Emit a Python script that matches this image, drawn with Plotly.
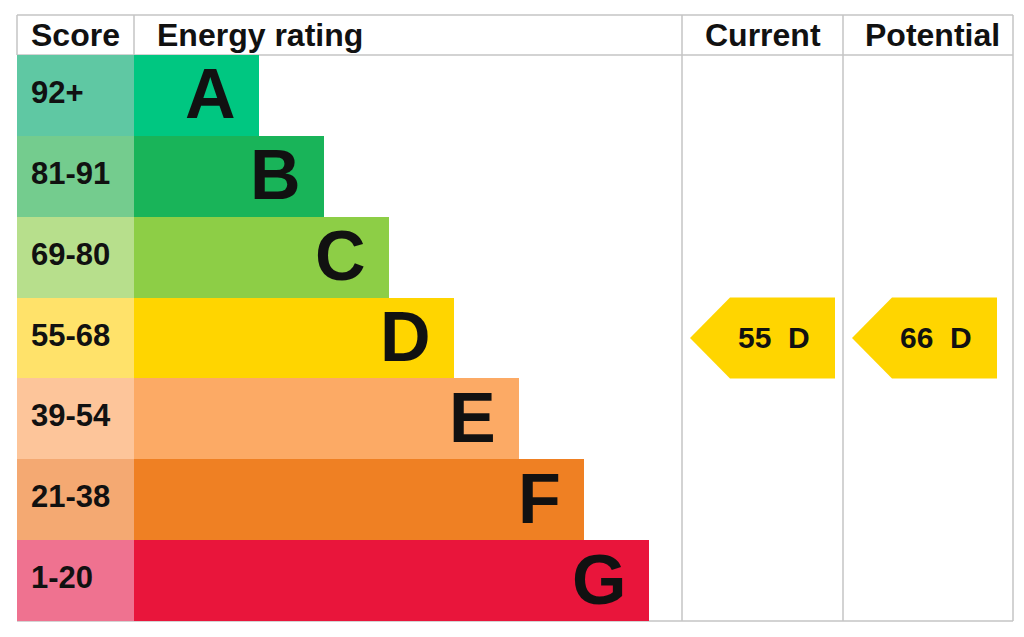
import plotly.graph_objects as go

# ---- data ----
bands = ["A", "B", "C", "D", "E", "F", "G"]
score_ranges = ["92+", "81-91", "69-80", "55-68", "39-54", "21-38", "1-20"]
band_lower = [92, 81, 69, 55, 39, 21, 1]
band_colors = ["#00C781", "#19B459", "#8DCE46", "#FFD500", "#FCAA65", "#EF8023", "#E9153B"]
score_colors = ["#5FC8A3", "#74CC8E", "#B7DF8C", "#FFE26A", "#FDC59A", "#F4A972", "#EF7290"]
headers = ["Score", "Energy rating", "Current", "Potential"]
current_score = 55
potential_score = 66

# ---- layout geometry (pixels) ----
W, H = 1024, 637
OFF = 8  # page body margin
left, top, right, bottom = 17, 15, 1013, 621
head_bot = 55
col_score = 134
col_cur = 682
col_pot = 843
row_h = (bottom - head_bot) / len(bands)
row_c = [head_bot + row_h * (i + 0.5) for i in range(len(bands))]
bar_len = [125 + 65 * i for i in range(len(bands))]

FONT = "Liberation Sans, Arial, sans-serif"
TXT = "#111111"
GRID = "#C4C4C4"

def band_of(score):
    for i, lo in enumerate(band_lower):
        if score >= lo:
            return i
    return len(band_lower) - 1

fig = go.Figure()

# score column
fig.add_trace(go.Bar(
    orientation="h", y=row_c, x=[col_score - left] * len(bands), base=left,
    width=row_h, marker=dict(color=score_colors, line=dict(width=0)),
    hoverinfo="skip", showlegend=False))
# energy bars
fig.add_trace(go.Bar(
    orientation="h", y=row_c, x=bar_len, base=col_score,
    width=row_h, marker=dict(color=band_colors, line=dict(width=0)),
    hoverinfo="skip", showlegend=False))

annotations = []
for i in range(len(bands)):
    annotations.append(dict(x=left + 12, y=row_c[i] - 3, text=score_ranges[i], xanchor="left",
                            yanchor="middle", showarrow=False,
                            font=dict(family=FONT, size=31, color=TXT, weight="bold")))
    annotations.append(dict(x=col_score + bar_len[i] - 21, y=row_c[i] - 1, text=bands[i],
                            xanchor="right", yanchor="middle", showarrow=False,
                            font=dict(family=FONT, size=70, color=TXT, weight="bold")))

# arrows
def arrow(score, x0, x1):
    i = band_of(score)
    yc = row_c[i]
    y0, y1 = yc - row_h / 2, yc + row_h / 2
    notch = x0 + 40
    xs = [x0, notch, x1, x1, notch, x0]
    ys = [yc, y0, y0, y1, y1, yc]
    fig.add_trace(go.Scatter(x=xs, y=ys, mode="lines", fill="toself",
                             fillcolor=band_colors[i], line=dict(width=0, color=band_colors[i]),
                             hoverinfo="skip", showlegend=False))
    annotations.append(dict(x=(notch + x1) / 2 - 9, y=yc - 1, text=f"{score}  {bands[i]}",
                            xanchor="center", yanchor="middle", showarrow=False,
                            font=dict(family=FONT, size=30, color=TXT, weight="bold")))

arrow(current_score, 690, 835)
arrow(potential_score, 852, 997)

# headers
hx = [((left + col_score) / 2, "center"), (155, "left"),
      ((col_cur + col_pot) / 2, "center"), ((col_pot + right) / 2 + 4, "center")]
for (x, anc), t in zip(hx, headers):
    annotations.append(dict(x=x, y=(top + head_bot) / 2, text=t, xanchor=anc,
                            yanchor="middle", showarrow=False,
                            font=dict(family=FONT, size=32, color=TXT, weight="bold")))

shapes = []
def line(x0, y0, x1, y1):
    shapes.append(dict(type="line", x0=x0, y0=y0, x1=x1, y1=y1, xref="x", yref="y",
                       line=dict(color=GRID, width=1.5), layer="below"))

line(left, top, right, top)
line(left, head_bot, right, head_bot)
line(left, bottom, right, bottom)
line(left, top, left, head_bot)
line(col_score, top, col_score, head_bot)
line(col_cur, top, col_cur, bottom)
line(col_pot, top, col_pot, bottom)
line(right, top, right, bottom)

fig.update_layout(
    width=W, height=H, margin=dict(l=0, r=0, t=0, b=0),
    paper_bgcolor="white", plot_bgcolor="white",
    barmode="overlay", bargap=0,
    xaxis=dict(range=[OFF, W + OFF], visible=False, fixedrange=True),
    yaxis=dict(range=[H + OFF, OFF], visible=False, fixedrange=True),
    annotations=annotations, shapes=shapes, showlegend=False,
)

fig.write_html("out.html")
